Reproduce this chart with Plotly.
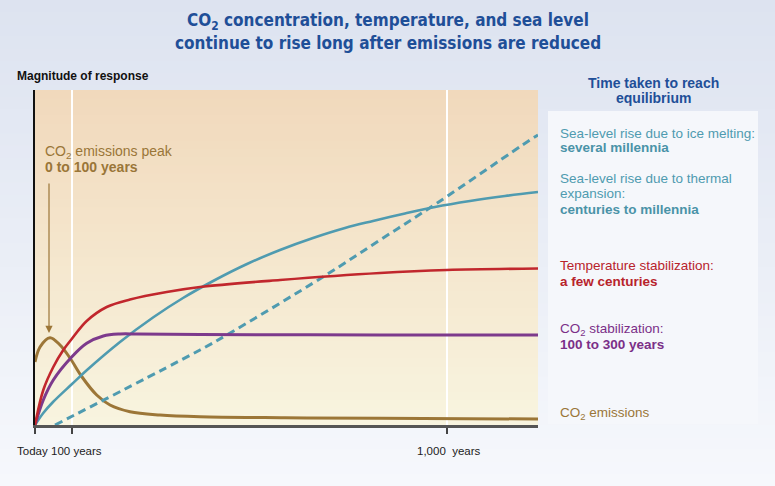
import plotly.graph_objects as go

# ---- data (schematic coordinates: x = time axis, y = magnitude of response) ----
tick_pos = [0, 37, 412]
tick_labels = ["Today", "100 years", "1,000  years"]
tick_label_px = [32, 76.5, 448.5]

emis_x = [0, 5, 15, 25, 35, 46.7, 61.7, 75, 95, 125, 165, 250, 345, 503]
emis_y = [63, 78, 87.3, 80, 67, 48.5, 30, 20, 13.3, 10, 8.3, 7.3, 6.7, 6]

temp_x = [0, 8.3, 18.3, 28.3, 36.7, 51.7, 71.7, 95, 131.7, 165, 245, 345, 411.7, 503]
temp_y = [0, 35, 58, 75, 86, 104, 118, 125.5, 133, 138, 145, 152, 155, 156.5]

co2_x = [0, 8.3, 18.3, 36.7, 51.7, 68.3, 85, 101.7, 165, 345, 503]
co2_y = [0, 25, 45, 68, 81.7, 89, 91, 91, 90.5, 90, 90]

thermal_x = [0, 8.3, 18, 37, 52, 85, 118, 148, 180, 212, 245, 278, 310, 338, 370, 400, 435, 470, 503]
thermal_y = [0, 12, 23, 41, 55, 83, 107.5, 127, 145, 161, 175, 187, 197, 204, 211.5, 218, 224, 229, 233]

ice_x = [20, 165, 191.7, 288.3, 345, 401.7, 495, 503]
ice_y = [0, 75, 90, 148.3, 185, 221.7, 285, 290]

BROWN = "#9c7637"
RED = "#c1272d"
PURPLE = "#7d3a8c"
TEAL = "#4f9bb0"
BLUE = "#1f4f98"

W, H = 775, 486
ML, MR, MT, MB = 35, 237, 90, 61
PW, PH = W - ML - MR, H - MT - MB
XR = [0, 503]
YR = [0, 335]

fig = go.Figure()

def line(x, y, color, width, dash="solid"):
    fig.add_trace(go.Scatter(x=x, y=y, mode="lines", cliponaxis=False,
                             line=dict(color=color, width=width, dash=dash,
                                       shape="spline", smoothing=1.0),
                             hoverinfo="skip", showlegend=False))

line(emis_x, emis_y, BROWN, 3)
line(ice_x, ice_y, TEAL, 3, dash="8px,5px")
line(thermal_x, thermal_y, TEAL, 2.6)
line(co2_x, co2_y, PURPLE, 3)
line(temp_x, temp_y, RED, 2.6)

# ---- background gradients ----
def lerp(c1, c2, t):
    a = [int(c1[i:i+2], 16) for i in (1, 3, 5)]
    b = [int(c2[i:i+2], 16) for i in (1, 3, 5)]
    return "rgb(%d,%d,%d)" % tuple(round(a[k] + (b[k] - a[k]) * t) for k in range(3))

def px_x(px):
    return (px - ML) / PW

def px_y(py):
    return (H - MB - py) / PH

shapes = []
N = 40
for i in range(N):
    py0 = H * i / N
    py1 = H * (i + 1) / N + 1
    shapes.append(dict(type="rect", xref="paper", yref="paper", layer="below",
                       x0=px_x(-5), x1=px_x(W + 5), y0=px_y(py1), y1=px_y(py0),
                       fillcolor=lerp("#dde3f0", "#f6f8fc", i / (N - 1)),
                       line=dict(width=0)))
for i in range(N):
    shapes.append(dict(type="rect", xref="paper", yref="paper", layer="below",
                       x0=0, x1=1, y0=1 - (i + 1) / N - 0.003, y1=1 - i / N,
                       fillcolor=lerp("#f1d9bc", "#f8f4df", i / (N - 1)),
                       line=dict(width=0)))
shapes.append(dict(type="rect", xref="paper", yref="paper", layer="below",
                   x0=px_x(548), x1=px_x(758), y0=px_y(424), y1=px_y(111),
                   fillcolor="#f5f7fb", line=dict(width=0)))

ann = []
FONT = "Liberation Sans, Arial, sans-serif"
COND = "DejaVu Sans Condensed, sans-serif"

def text(px, py, s, size, color, bold=False, xanchor="left", family=FONT):
    ann.append(dict(x=px_x(px), y=px_y(py), xref="paper", yref="paper",
                    text=("<b>%s</b>" % s) if bold else s,
                    showarrow=False, xanchor=xanchor, yanchor="middle",
                    font=dict(family=family, size=size, color=color)))

# title
text(388, 21, "CO<sub>2</sub> concentration, temperature, and sea level", 17, BLUE, True, "center", COND)
text(388, 43, "continue to rise long after emissions are reduced", 17, BLUE, True, "center", COND)
text(15, 76, "Magnitude of response", 12, "#111111", True, "left")
text(653, 82.5, "Time taken to reach", 14, BLUE, True, "center")
text(653, 98, "equilibrium", 14, BLUE, True, "center")

# right labels
RX = 558
text(RX, 133, "Sea-level rise due to ice melting:", 13.5, TEAL)
text(RX, 147, "several millennia", 13.5, "#4a93a8", True)
text(RX, 178, "Sea-level rise due to thermal", 13.5, TEAL)
text(RX, 193, "expansion:", 13.5, TEAL)
text(RX, 209, "centuries to millennia", 13.5, "#4a93a8", True)
text(RX, 265, "Temperature stabilization:", 13.5, "#b8232b")
text(RX, 281, "a few centuries", 13.5, "#b8232b", True)
text(RX, 329, "CO<sub>2</sub> stabilization:", 13.5, "#7b2f88")
text(RX, 344, "100 to 300 years", 13.5, "#7b2f88", True)
text(RX, 413, "CO<sub>2</sub> emissions", 13.5, "#9a7638")

# left emissions label
text(43, 152, "CO<sub>2</sub> emissions peak", 14, "#9a7638")
text(43, 167, "0 to 100 years", 14, "#9a7638", True)

# x labels
for xp, lab in zip(tick_label_px, tick_labels):
    text(xp, 451, lab, 11.5, "#222222", False, "center")

# arrow
ann.append(dict(x=14, y=92, ax=14, ay=243, xref="x", yref="y", axref="x", ayref="y",
                text="", showarrow=True, arrowhead=2, arrowsize=1.2, arrowwidth=1.2,
                arrowcolor=BROWN))

fig.update_layout(
    width=W, height=H,
    margin=dict(l=ML, r=MR, t=MT, b=MB, pad=0),
    paper_bgcolor="#e9edf6", plot_bgcolor="#f5ead0",
    shapes=shapes, annotations=ann,
    showlegend=False, hovermode=False,
    xaxis=dict(range=XR, tickvals=tick_pos, showticklabels=False,
               ticks="outside", ticklen=6, tickwidth=1.5, tickcolor="#444444",
               showgrid=True, gridcolor="white", gridwidth=1.5,
               showline=True, linecolor="#555555", linewidth=2.5,
               zeroline=False, fixedrange=True),
    yaxis=dict(range=YR, showticklabels=False, ticks="", showgrid=False,
               showline=True, linecolor="#111111", linewidth=1.5,
               zeroline=False, fixedrange=True),
)

fig.write_html("out.html", config={"displayModeBar": False},
               post_script="document.body.style.margin='0';")
